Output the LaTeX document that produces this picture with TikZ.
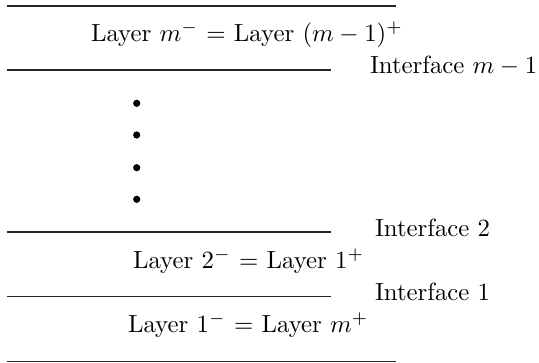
\documentclass[tikz,border=0pt]{standalone}
\begin{document}
\begin{tikzpicture}[x=0.4032pt,y=-0.4032pt,
  layerline/.style={line width=0.5pt, black!85},
  lbl/.style={anchor=base west, inner sep=0pt, outer sep=0pt},
  dotmark/.style={circle, fill=black, inner sep=0pt, minimum size=2.9pt}]
\useasboundingbox (0,0) rectangle (539,363);
% lines
\draw[layerline] (7,6) -- (396,6);
\draw[layerline] (7,70) -- (331,70);
\draw[layerline] (7,232) -- (331,232);
\draw[layerline] (7,296.7) -- (331,296.7);
\draw[layerline] (7,361.5) -- (396,361.5);
% labels
\node[lbl] (ltop) at (91,41.5) {Layer $m^-$ = Layer $(m-1)^+$};
\node[lbl] (im1) at (370,73.5) {Interface $m-1$};
\node[lbl] (i2) at (375,236.7) {Interface 2};
\node[lbl] (l2) at (133,268.5) {Layer $2^-$ = Layer $1^+$};
\node[lbl] (i1) at (375,301) {Interface 1};
\node[lbl] (l1) at (128,333) {Layer $1^-$ = Layer $m^+$};
% dots
\node[dotmark] (d1) at (136.7,103.3) {};
\node[dotmark] (d2) at (136.7,135) {};
\node[dotmark] (d3) at (136.7,167.7) {};
\node[dotmark] (d4) at (136.7,199.3) {};
\end{tikzpicture}
\end{document}
